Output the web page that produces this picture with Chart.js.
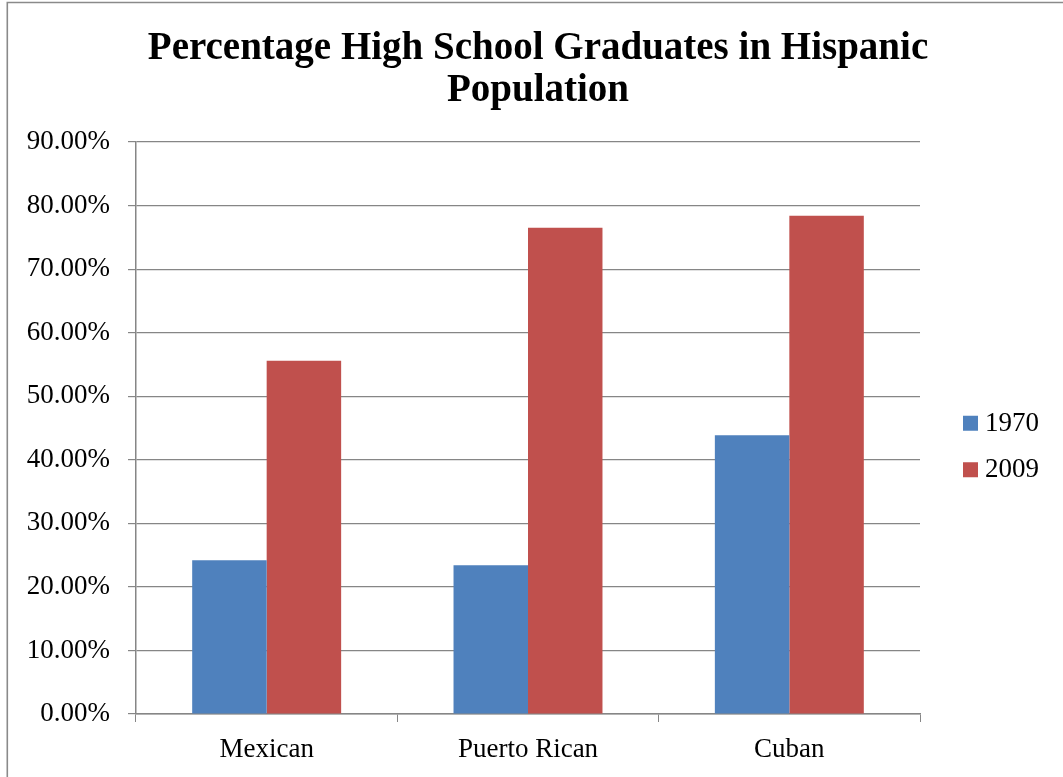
<!DOCTYPE html>
<html>
<head>
<meta charset="utf-8">
<script src="https://cdn.jsdelivr.net/npm/chart.js@4"></script>
<style>
  html, body { margin: 0; padding: 0; background: #ffffff; }
  #wrap { width: 1063px; height: 777px; }
</style>
</head>
<body>
<div id="wrap"><canvas id="c" width="1063" height="777"></canvas></div>
<script>
// Share of high school graduates by Hispanic origin group
const categories = ['Mexican', 'Puerto Rican', 'Cuban'];
const seriesNames = ['1970', '2009'];
const values1970 = [24.2, 23.4, 43.85];
const values2009 = [55.6, 76.5, 78.4];
const yTicks = [0, 10, 20, 30, 40, 50, 60, 70, 80, 90];
const titleLines = ['Percentage High School Graduates in Hispanic', 'Population'];

const BLUE = '#4F81BD';
const RED = '#C0504D';
const GRID = '#868686';
const LABEL_FONT = { family: '"Liberation Serif", serif', size: 27 };

// Frame, centred two-line title and a right-hand legend
const decorations = {
  id: 'decorations',
  afterDraw(chart) {
    const ctx = chart.ctx;
    const area = chart.chartArea;
    ctx.save();

    // outer frame (open on the right and bottom)
    ctx.strokeStyle = '#8a8a8a';
    ctx.lineWidth = 1.6;
    ctx.beginPath();
    ctx.moveTo(7.3, chart.height + 5);
    ctx.lineTo(7.3, 2.5);
    ctx.lineTo(chart.width + 5, 2.5);
    ctx.stroke();

    // title
    ctx.fillStyle = '#000000';
    ctx.font = 'bold 39px "Liberation Serif", serif';
    ctx.textAlign = 'center';
    ctx.textBaseline = 'alphabetic';
    const cx = 538;
    ctx.fillText(titleLines[0], cx, 59);
    ctx.fillText(titleLines[1], cx, 101);

    // legend
    ctx.font = '27px "Liberation Serif", serif';
    ctx.textAlign = 'left';
    ctx.textBaseline = 'middle';
    const lx = area.right + 43;
    const midY = (area.top + area.bottom) / 2;
    const gap = 46.5;
    chart.data.datasets.forEach((ds, i) => {
      const cy = midY + 18 + (i - 0.5) * gap;
      ctx.fillStyle = ds.backgroundColor;
      ctx.fillRect(lx, cy - 7, 15, 15);
      ctx.fillStyle = '#000000';
      ctx.fillText(ds.label, lx + 22, cy + 1);
    });
    ctx.restore();
  }
};

new Chart(document.getElementById('c'), {
  type: 'bar',
  data: {
    labels: categories,
    datasets: [
      { label: seriesNames[0], data: values1970, backgroundColor: BLUE,
        categoryPercentage: 0.57, barPercentage: 1.0 },
      { label: seriesNames[1], data: values2009, backgroundColor: RED,
        categoryPercentage: 0.57, barPercentage: 1.0 }
    ]
  },
  options: {
    responsive: false,
    animation: false,
    devicePixelRatio: 1,
    layout: { padding: { top: 142, right: 143, bottom: 0, left: 0 } },
    plugins: {
      legend: { display: false },
      title: { display: false },
      tooltip: { enabled: false }
    },
    scales: {
      x: {
        afterFit(scale) { scale.height = 63; },
        grid: { display: true, drawOnChartArea: false, drawTicks: true,
                tickLength: 8, color: GRID, offset: true },
        border: { display: true, color: GRID, width: 1.5 },
        ticks: { color: '#000000', font: LABEL_FONT, padding: 12 }
      },
      y: {
        min: 0,
        max: 90,
        afterFit(scale) { scale.width = 136; },
        afterBuildTicks(scale) { scale.ticks = yTicks.map(v => ({ value: v })); },
        grid: { color: GRID, lineWidth: 1.2, drawTicks: true, tickLength: 8 },
        border: { display: true, color: GRID, width: 1.5 },
        ticks: {
          color: '#000000',
          font: LABEL_FONT,
          padding: 18,
          callback: (v) => Number(v).toFixed(2) + '%'
        }
      }
    }
  },
  plugins: [decorations]
});
</script>
</body>
</html>
